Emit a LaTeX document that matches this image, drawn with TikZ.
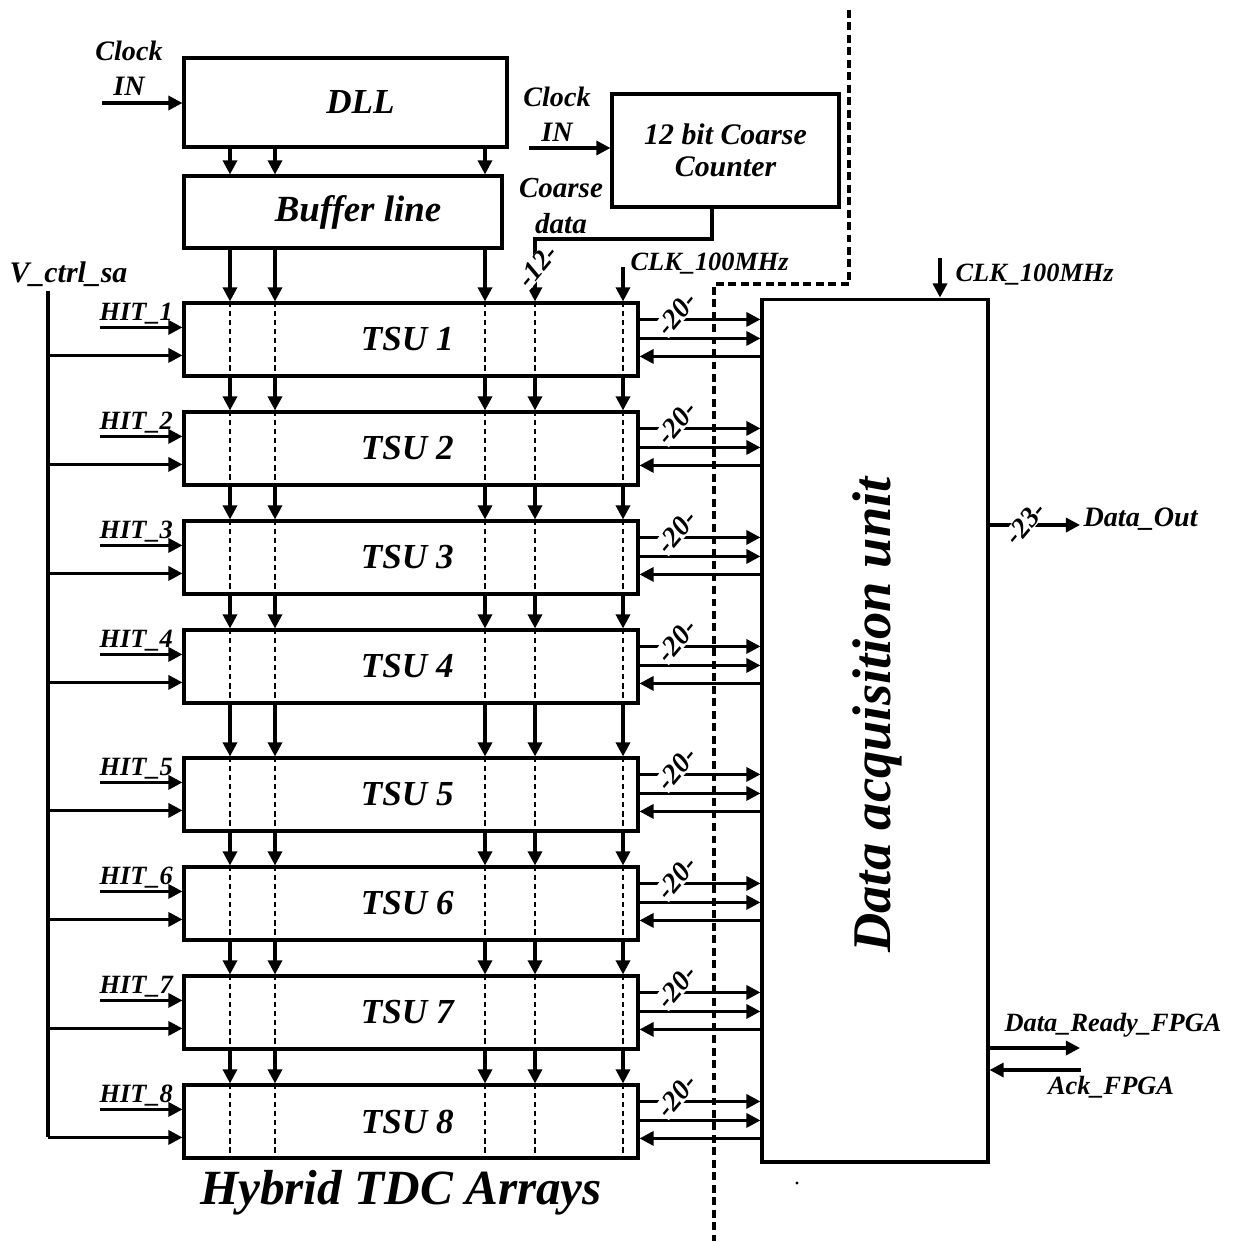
\documentclass[tikz,border=0pt]{standalone}
\usepackage{fontspec}
\setmainfont{Liberation Serif}
\usetikzlibrary{arrows.meta,calc}
\newcommand{\fsz}[1]{\bfseries\itshape\fontsize{#1}{1.2\dimexpr#1pt\relax}\selectfont}
\begin{document}
\begin{tikzpicture}[x=0.02cm,y=-0.02cm,
  line width=1.8pt,
  arr/.style={-{Triangle[length=8pt,width=8pt]}},
  box/.style={draw,line width=1.8pt,inner sep=0pt,font=\fsz{20}},
  lbl/.style={font=\fsz{15},inner sep=0pt},
  bus/.style={font=\fsz{16},inner sep=0.3pt,fill=white,rotate=50},
  inner/.style={dash pattern=on 3pt off 2.2pt,line width=1.4pt},
  sepline/.style={dash pattern=on 4.5pt off 2.6pt,line width=2.4pt},
]
\useasboundingbox (0,0) rectangle (1244,1241);

% column coordinates
\foreach \c/\x in {1/230,2/275,3/485,4/535,5/623}
  \coordinate (c\c) at (\x,0);

% blocks
\node[box,minimum width=6.46cm,minimum height=1.78cm] (dll) at (345.5,102.5) {\hspace*{0.6cm}DLL};
\node[box,minimum width=6.36cm,minimum height=1.44cm,font=\fsz{21}] (buf) at (343,212) {\hspace*{0.6cm}Buffer line};
\node[box,align=center,minimum width=4.54cm,minimum height=2.26cm,font=\fsz{17}] (cnt) at (725.5,150.5) {12 bit Coarse\\[-2pt]Counter};
\foreach \i/\y in {1/339.5,2/448.5,3/557.5,4/666.5,5/794.5,6/903.5,7/1012.5,8/1121.5}
  \node[box,minimum width=9.08cm,minimum height=1.46cm] (tsu\i) at (411,\y) {\hspace*{-0.15cm}TSU \i};
\node[box,minimum width=4.52cm,minimum height=17.26cm] (daq) at (875,730.5) {};
\node[rotate=90,font=\fsz{31},inner sep=0pt] (daqt) at (877,715) {Data acquisition unit};

% separator
\coordinate (s1) at (849,10);
\coordinate (s2) at (849,284);
\coordinate (s3) at (714,284);
\coordinate (s4) at (714,1241);
\draw[sepline] (s1) -- (s2) -- (s3) -- (s4);

% DLL -> buffer -> TSU1
\foreach \c in {1,2,3}{
  \draw[arr] (dll.south -| c\c) -- (buf.north -| c\c);
  \draw[arr] (buf.south -| c\c) -- (tsu1.north -| c\c);
}

% clock inputs
\node[lbl,align=center,font=\fsz{16}] (clkl) at (129,68) {Clock\\[1pt]IN};
\coordinate (clkls) at (102,103);
\draw[arr] (clkls) -- (clkls -| dll.west);
\node[lbl,align=center,font=\fsz{16}] (clkr) at (557,114) {Clock\\[1pt]IN};
\coordinate (clkrs) at (529,148);
\draw[arr] (clkrs) -- (clkrs -| cnt.west);

% coarse data
\node[lbl,align=center,font=\fsz{16.5}] (cdl) at (561,206) {Coarse\\[1pt]data};
\coordinate (cd) at (712,239);
\draw[arr] (cnt.south -| cd) -- (cd) -- (cd -| c4) -- (tsu1.north -| c4);
\node[bus] (b12) at (537,266) {-12-};

% CLK_100MHz to TSU
\coordinate (clk1) at (623,267);
\draw[arr] (clk1) -- (tsu1.north -| clk1);
\node[lbl,anchor=west] (clkt1) at (629,264) {CLK\_100MHz};

% CLK_100MHz to DAQ
\coordinate (clk2) at (940,258);
\draw[arr] (clk2) -- (clk2 |- daq.north);
\node[lbl,anchor=west] (clkt2) at (954,275) {CLK\_100MHz};

% between TSUs
\foreach \i [count=\j from 2] in {1,...,7}
  \foreach \c in {1,...,5}
    \draw[arr] (tsu\i.south -| c\c) -- (tsu\j.north -| c\c);

% dashed lines inside TSUs
\foreach \i in {1,...,8}
  \foreach \c in {1,...,5}
    \draw[inner] (tsu\i.north -| c\c) -- (tsu\i.south -| c\c);

% V_ctrl_sa
\node[lbl,anchor=base west,font=\fsz{17}] (vct) at (8,282) {V\_ctrl\_sa};
\coordinate (vtop) at (48,291);
\coordinate (vbot) at ($(tsu8.north west)+(0,54)$);
\draw (vtop) -- (vtop |- vbot);

\foreach \i in {1,...,8}{
  % HIT inputs
  \coordinate (h\i) at ($(tsu\i.north west)+(-82,26)$);
  \draw[arr] (h\i) -- (h\i -| tsu\i.west);
  \node[lbl,anchor=base east] (hl\i) at ($(tsu\i.north west)+(-8,19)$) {HIT\_\i};
  % V_ctrl inputs
  \coordinate (v\i) at ($(tsu\i.north west)+(0,54)$);
  \draw[arr] (v\i -| vtop) -- (v\i);
  % outputs to DAQ
  \coordinate (oa\i) at ($(tsu\i.north east)+(0,18)$);
  \coordinate (ob\i) at ($(tsu\i.north east)+(0,37)$);
  \coordinate (oc\i) at ($(tsu\i.north east)+(0,55)$);
  \draw[arr] (oa\i) -- (oa\i -| daq.west);
  \draw[arr] (ob\i) -- (ob\i -| daq.west);
  \draw[arr] (oc\i -| daq.west) -- (oc\i);
  \node[bus] (bl\i) at ($(tsu\i.north east)+(37,12)$) {-20-};
}

% DAQ outputs
\coordinate (dout) at (1080,525);
\draw[arr] (dout -| daq.east) -- (dout);
\node[bus] (b23) at (1025,523) {-23-};
\node[lbl,anchor=west,font=\fsz{16}] (doutl) at (1082,519) {Data\_Out};

\coordinate (drdy) at (1080,1048);
\draw[arr] (drdy -| daq.east) -- (drdy);
\node[lbl] (drdyl) at (1113,1025) {Data\_Ready\_FPGA};

\coordinate (ack) at (1081,1070);
\draw[arr] (ack) -- (ack -| daq.east);
\node[lbl] (ackl) at (1111,1087) {Ack\_FPGA};

% caption
\node[font=\fsz{28},inner sep=0pt] (cap) at (401,1193) {Hybrid TDC Arrays};
\fill (797,1183) circle (1.6);
\end{tikzpicture}
\end{document}
